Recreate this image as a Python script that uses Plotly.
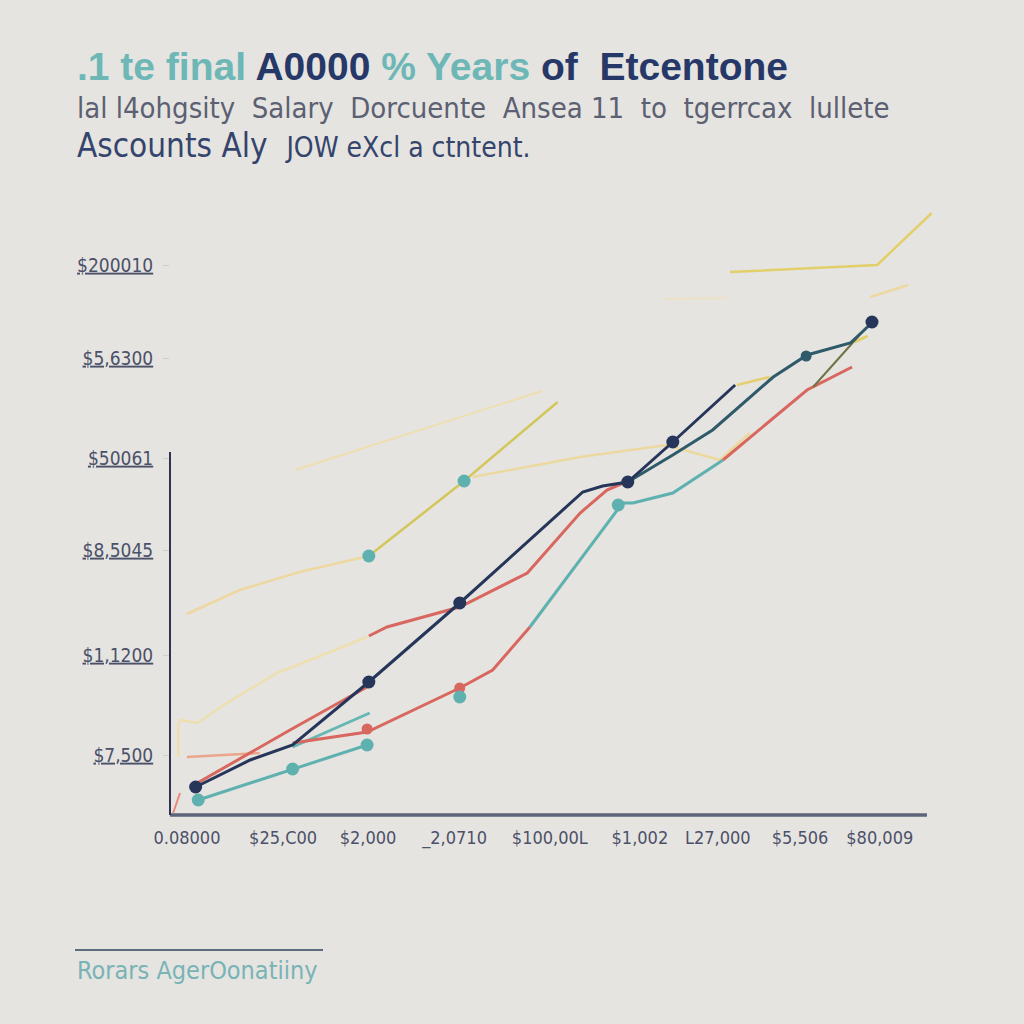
import plotly.graph_objects as go

# ---------------- data (x in "period" units, y in $k) ----------------
x_ticks = [0, 1.11, 2.09, 3.09, 4.19, 5.23, 6.13, 7.08, 8.0]
x_labels = ["0.08000", "$25,C00", "$2,000", "_2,0710", "$100,00L", "$1,002", "L27,000", "$5,506", "$80,009"]
y_ticks = [6.0, 16.0, 26.5, 35.7, 45.7, 55.0]
y_labels = ["$7,500", "$1,1200", "$8,5045", "$50061", "$5,6300", "$200010"]

navy_x = [0.10, 0.73, 1.22, 2.10, 3.15, 4.57, 4.80, 5.09, 5.61, 6.33]
navy_y = [2.8, 5.5, 7.0, 13.3, 21.2, 32.3, 32.9, 33.3, 37.3, 43.0]

darkteal_x = [5.09, 5.61, 6.07, 6.77, 7.16, 7.66, 7.92]
darkteal_y = [33.3, 36.0, 38.5, 43.8, 46.0, 47.2, 49.3]

olive_x = [7.23, 7.85]
olive_y = [42.8, 48.8]

red_a_x = [0.12, 1.19, 2.10]
red_a_y = [3.2, 8.5, 12.9]
red_b_x = [2.10, 2.31, 3.15, 3.93, 4.54, 4.85, 5.12]
red_b_y = [17.9, 18.8, 20.8, 24.2, 30.2, 32.5, 33.5]
red_c_x = [1.22, 2.08, 3.15, 3.53, 3.96]
red_c_y = [7.2, 8.3, 12.7, 14.5, 18.8]
red_d_x = [6.19, 7.16, 7.68]
red_d_y = [35.5, 42.5, 44.8]
red_e_x = [-0.16, -0.08]
red_e_y = [0.2, 2.2]

orange_x = [0.0, 0.84]
orange_y = [5.8, 6.2]

teal_a_x = [0.13, 1.22, 2.08]
teal_a_y = [1.5, 4.6, 7.0]
teal_b_x = [3.96, 4.54, 5.03, 5.15, 5.61, 6.19]
teal_b_y = [18.8, 25.5, 31.2, 31.2, 32.2, 35.5]
teal_c_x = [1.22, 2.11]
teal_c_y = [6.8, 10.2]

yellow_x = [2.10, 3.20, 4.28]
yellow_y = [25.9, 33.4, 41.3]
yellow_lead_x = [0.0, 0.61, 1.30, 2.10]
yellow_lead_y = [20.1, 22.5, 24.3, 25.9]
pale_diag_x = [1.25, 4.10]
pale_diag_y = [34.5, 42.4]
pale_mid_x = [3.30, 4.54, 5.54, 6.15, 6.50]
pale_mid_y = [33.8, 35.8, 37.0, 35.5, 38.2]
yellow_short_x = [6.35, 6.73]
yellow_short_y = [43.0, 43.8]
yellow_top_x = [6.27, 7.97, 8.60]
yellow_top_y = [54.3, 55.0, 60.2]
pale_top_x = [5.50, 6.24]
pale_top_y = [51.6, 51.7]
pale_right_x = [7.89, 8.33]
pale_right_y = [51.8, 53.0]
yellow_tiny_x = [7.71, 7.86]
yellow_tiny_y = [47.3, 47.9]
pale_low_x = [-0.10, -0.10, -0.08, 0.12, 0.46, 1.04, 1.22, 2.00, 2.08]
pale_low_y = [5.8, 8.8, 9.5, 9.2, 11.2, 14.2, 14.8, 17.5, 17.8]

navy_mx = [0.10, 2.10, 3.15, 5.09, 5.61, 7.91]
navy_my = [2.8, 13.3, 21.2, 33.3, 37.3, 49.3]
teal_mx = [0.13, 1.22, 2.08, 3.15, 4.98, 2.10, 3.20]
teal_my = [1.5, 4.6, 7.0, 11.8, 31.0, 25.9, 33.4]
dteal_mx = [7.15]
dteal_my = [45.9]
red_mx = [3.15, 2.08]
red_my = [12.7, 8.6]

# ---------------- styles ----------------
NAVY = "#26365a"
DTEAL = "#2f5a6a"
RED = "#d8675f"
TEAL = "#5fb1b0"
YEL = "#d3c65a"
PALE = "#eedfb0"
BG = "#e6e4e0"

fig = go.Figure()

def line(x, y, color, width=3, opacity=1.0):
    fig.add_trace(go.Scatter(x=x, y=y, mode="lines", line=dict(color=color, width=width),
                             opacity=opacity, hoverinfo="skip", showlegend=False))

line(pale_low_x, pale_low_y, PALE, 2.5)
line(pale_diag_x, pale_diag_y, PALE, 2)
line(pale_mid_x, pale_mid_y, "#ecd9a0", 2.5)
line(pale_top_x, pale_top_y, "#ece2c6", 2)
line(pale_right_x, pale_right_y, "#ecd9a0", 2.5)
line(yellow_lead_x, yellow_lead_y, "#ecd8a0", 2.5)
line(yellow_x, yellow_y, YEL, 2.5)
line(yellow_short_x, yellow_short_y, "#e3cf72", 2.5)
line(yellow_top_x, yellow_top_y, "#e2cf6a", 2.5)
line(yellow_tiny_x, yellow_tiny_y, "#e2cf6a", 3)
line(orange_x, orange_y, "#eba58a", 2.5)
line(red_e_x, red_e_y, "#e78a7a", 2)
line(teal_c_x, teal_c_y, "#66b7b3", 3)
line(red_c_x, red_c_y, RED, 3)
line(teal_a_x, teal_a_y, TEAL, 3)
line(teal_b_x, teal_b_y, TEAL, 3)
line(red_a_x, red_a_y, RED, 3)
line(red_b_x, red_b_y, RED, 3)
line(red_d_x, red_d_y, RED, 3)
line(olive_x, olive_y, "#6f7444", 2)
line(darkteal_x, darkteal_y, DTEAL, 3)
line(navy_x, navy_y, NAVY, 3)

def markers(x, y, color, size):
    fig.add_trace(go.Scatter(x=x, y=y, mode="markers", marker=dict(color=color, size=size),
                             hoverinfo="skip", showlegend=False))

markers(red_mx, red_my, RED, 11)
markers(teal_mx, teal_my, TEAL, 13)
markers(dteal_mx, dteal_my, DTEAL, 11)
markers(navy_mx, navy_my, NAVY, 13)

# ---------------- layout ----------------
L, R, T, B = 170, 940, 200, 815
W = R - L
H = B - T
def px(xp):
    return (xp - L) / W
def py(yp):
    return (B - yp) / H

x0_val = -0.196
x_per = 86.6
x_range = [x0_val, x0_val + W / x_per]

AX_FONT = "Liberation Sans Narrow, DejaVu Sans Condensed, Arial Narrow, sans-serif"

fig.update_layout(
    width=1024, height=1024,
    margin=dict(l=L, r=1024 - R, t=T, b=1024 - B, autoexpand=False),
    paper_bgcolor=BG, plot_bgcolor=BG,
    xaxis=dict(range=x_range, showgrid=False, zeroline=False, showline=False,
               tickvals=x_ticks, ticktext=x_labels, ticks="",
               tickfont=dict(family=AX_FONT, size=18, color="#4b5169"),
               ticklabelstandoff=10),
    yaxis=dict(range=[0, H / 10], showgrid=False, zeroline=False, showline=False,
               tickvals=y_ticks, ticktext=["<u>" + t + "</u>" for t in y_labels],
               ticks="outside", ticklen=6, tickcolor="#cfcfd2",
               tickfont=dict(family=AX_FONT, size=19, color="#4b5169"),
               ticklabelstandoff=6),
    shapes=[
        dict(type="line", xref="x", yref="paper", x0=x_range[0], x1=8.545, y0=0, y1=0,
             line=dict(color="#5c657a", width=3.5)),
        dict(type="line", xref="paper", yref="paper", x0=0, x1=0, y0=0, y1=py(452),
             line=dict(color="#2e3450", width=2)),
        dict(type="line", xref="paper", yref="paper", x0=px(75), x1=px(323), y0=py(950), y1=py(950),
             line=dict(color="#5d6c7c", width=2)),
    ],
)

TITLE_FONT = "Liberation Sans, Arial, sans-serif"
title = ("<span style='color:#6db7b7'>.1 te final </span>"
         "<span style='color:#263868'>A0000 </span>"
         "<span style='color:#6db7b7'>% Years </span>"
         "<span style='color:#263868'>of  Etcentone</span>")
fig.add_annotation(xref="paper", yref="paper", x=px(75), y=py(66), xanchor="left", yanchor="middle",
                   text="<b>" + title + "</b>", showarrow=False,
                   font=dict(family=TITLE_FONT, size=39))
fig.add_annotation(xref="paper", yref="paper", x=px(75), y=py(108), xanchor="left", yanchor="middle",
                   text="lal l4ohgsity  Salary  Dorcuente  Ansea 11  to  tgerrcax  lullete", showarrow=False,
                   font=dict(family=AX_FONT, size=29, color="#5b6072"))
fig.add_annotation(xref="paper", yref="paper", x=px(75), y=py(145), xanchor="left", yanchor="middle",
                   text="Ascounts Aly  <span style='font-size:28px'>JOW eXcl a ctntent.</span>", showarrow=False,
                   font=dict(family=AX_FONT, size=33, color="#34446c"))
fig.add_annotation(xref="paper", yref="paper", x=px(75), y=py(970), xanchor="left", yanchor="middle",
                   text="Rorars AgerOonatiiny", showarrow=False,
                   font=dict(family=AX_FONT, size=25, color="#78b3b6"))

fig.write_html("out.html", config={"displayModeBar": False},
               post_script="document.body.style.margin='0';document.body.style.background='" + BG + "';")
